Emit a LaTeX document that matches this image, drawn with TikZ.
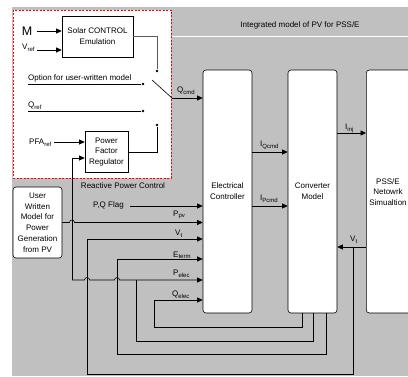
\documentclass[tikz,border=0pt]{standalone}
\usepackage{fontspec}
\setmainfont{Liberation Sans}
\usetikzlibrary{arrows.meta}
\definecolor{bg}{HTML}{C0C0C0}
\begin{document}
\begin{tikzpicture}[x=1pt,y=-1pt,
  every node/.style={font=\fontsize{8}{10.8}\selectfont},
  blk/.style={draw, fill=white, line width=0.6pt, inner sep=0pt, align=center},
  rblk/.style={blk, rounded corners=3pt},
  wire/.style={line width=0.6pt},
  arr/.style={wire, -{Triangle[length=5.5pt,width=5pt]}},
  dot/.style={circle, fill, inner sep=0pt, minimum size=2.8pt},
  lbl/.style={inner sep=0pt, anchor=base west},
  hop/.style={}]
\useasboundingbox (0,0) rectangle (408,377);
\clip (0,0) rectangle (408,377);
\fill[white] (0,0) rectangle (408,377);
\fill[bg] (12,7) rectangle (408,376);
\draw[white, line width=1pt] (171,37) -- (408,37);
\node[inner sep=0pt] (hdr) at (300,25) {Integrated model of PV for PSS/E};
\draw[red, dash pattern=on 2pt off 1.5pt, fill=white, line width=0.6pt] (13,10) rectangle (171,178);

% blocks
\node[blk, minimum width=71pt, minimum height=41pt] (solar) at (97.5,36.5) {Solar CONTROL\\Emulation};
\node[blk, minimum width=43pt, minimum height=41pt] (pfr) at (106.5,152) {Power\\Factor\\Regulator};
\node[rblk, minimum width=49pt, minimum height=71pt] (user) at (37.5,222.5) {User\\Written\\Model for\\Power\\Generation\\from PV};
\node[rblk, minimum width=49pt, minimum height=243pt] (ec) at (227.5,191.5) {Electrical\\Controller};
\node[rblk, minimum width=49pt, minimum height=243pt] (conv) at (312.5,191.5) {Converter\\Model};
\node[rblk, minimum width=60pt, minimum height=243pt, anchor=west] (pss) at (366,191.5) {};
\node[inner sep=0pt, align=center] (psst) at (388,192) {PSS/E\\Netowrk\\Simualtion};

% inputs of solar block
\node[inner sep=0pt, font=\fontsize{12.5}{12.5}\selectfont] (m) at (27,31.5) {M};
\draw[arr] (37,31) -- (solar.west |- 0,31);
\node[lbl] (vref) at (22,50) {V\textsubscript{ref}};
\draw[arr] (37,50) -- (solar.west |- 0,50);

% switch contacts
\node[dot] (d1) at (157,71) {};
\node[dot] (d2) at (143,84) {};
\node[dot] (d3) at (143,111) {};
\node[dot] (d4) at (157,125) {};
\draw[wire, gray!70!black] (solar.east) -- (solar.east -| d1) -- (d1);
\node[lbl] (opt) at (28,81) {Option for user-written model};
\draw[wire] (opt.base west |- d2) -- (d2);
\node[lbl] (qref) at (28,108) {Q\textsubscript{ref}};
\draw[wire] (qref.base west |- d3) -- (d3);
\draw[wire] (pfr.east) -- (pfr.east -| d4) -- (d4);
\coordinate (bl) at (152,80);
\coordinate (sw) at (172,98);
\draw[wire] (bl) -- (sw);
\draw[arr] (sw) -- (sw -| ec.west);
\node[lbl] (qcmd) at (177,93) {Q\textsubscript{cmd}};

% power factor regulator inputs
\node[lbl] (pfa) at (29,145) {PFA\textsubscript{ref}};
\draw[arr] (54,142) -- (pfr.west |- 0,142);
\node[inner sep=0pt] (rpc) at (123,186) {Reactive Power Control};

% inputs of electrical controller
\node[lbl] (pq) at (93,208) {P,Q Flag};
\draw[arr] (130,206) -- (ec.west |- 0,206);
\node[lbl] (ppv) at (173,217) {P\textsubscript{pv}};
\draw[arr] (user.east) -- (69.5,222.5) arc[start angle=180, end angle=0, radius=2.5pt] -- (ec.west |- user.east);
\node[lbl] (vt) at (175,236) {V\textsubscript{t}};
\node[lbl] (eterm) at (173,257.5) {E\textsubscript{term}};
\node[lbl] (pelec) at (173,276) {P\textsubscript{elec}};
\node[lbl] (qelec) at (172,297) {Q\textsubscript{elec}};

% feedback from converter
\draw[arr] (conv.south -| 302,0) -- (302,327) -- (154,327) -- (154,300) -- (ec.west |- 0,300);
\draw[wire] (conv.south -| 313,0) -- (313,341) -- (136,341) -- (136,280);
\draw[arr] (72,280) -- (84.5,280) arc[start angle=180, end angle=0, radius=2.5pt]
  -- (114.5,280) arc[start angle=180, end angle=0, radius=2.5pt] -- (ec.west |- 0,280);
\draw[arr] (72,280) -- (72,158) -- (pfr.west |- 0,158);
\draw[arr] (conv.south -| 326,0) -- (326,354) -- (117,354) -- (117,259) -- (ec.west |- 0,259);
\draw[arr] (pss.west |- 0,247) -- (conv.east |- 0,247);
\draw[arr] (353,247) -- (353,374) -- (87,374) -- (87,239) -- (ec.west |- 0,239);
\node[lbl] (vt2) at (350,242) {V\textsubscript{t}};

% currents
\draw[arr] (ec.east |- 0,152) -- (conv.west |- 0,152);
\node[lbl] (iq) at (260,147) {I\textsubscript{Qcmd}};
\draw[arr] (ec.east |- 0,206) -- (conv.west |- 0,206);
\node[lbl] (ip) at (260,201) {I\textsubscript{Pcmd}};
\draw[arr] (conv.east |- 0,133) -- (pss.west |- 0,133);
\node[lbl] (iinj) at (345,130) {I\textsubscript{inj}};
\end{tikzpicture}
\end{document}
